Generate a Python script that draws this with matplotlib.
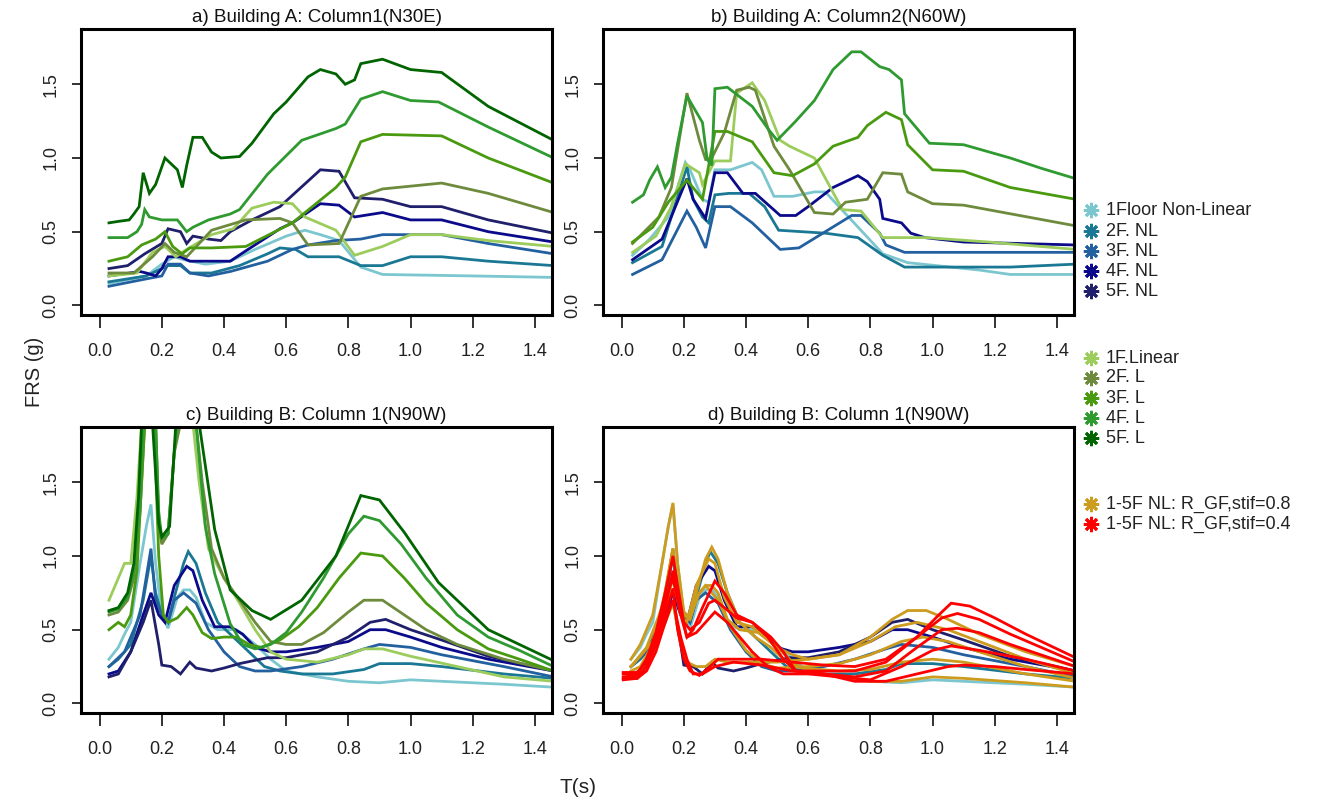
import numpy as np
import matplotlib
matplotlib.use("Agg")
import matplotlib.pyplot as plt
from matplotlib.lines import Line2D

plt.rcParams['font.family'] = ['Liberation Sans', 'DejaVu Sans']

# colours of the floors
col_nl = ['#7cc6d0', '#1a7895', '#23609f', '#0a0a8a', '#1f1f6c']
col_l = ['#9ccd5c', '#6e8b3d', '#4a9a10', '#2e9a30', '#006400']
col_gold = '#cd9b1d'
col_red = '#ff0000'

legend_labels = ['1Floor Non-Linear', '2F. NL', '3F. NL', '4F. NL', '5F. NL',
                 '1F.Linear', '2F. L', '3F. L', '4F. L', '5F. L',
                 '1-5F NL: R_GF,stif=0.8', '1-5F NL: R_GF,stif=0.4']

titles = ['a) Building A: Column1(N30E)', 'b) Building A: Column2(N60W)',
          'c) Building B: Column 1(N90W)', 'd) Building B: Column 1(N90W)']

# ---- panel a : (T, FRS) points
a_nl1 = [(0.03,0.15),(0.15,0.2),(0.2,0.28),(0.24,0.33),(0.27,0.31),(0.34,0.28),(0.42,0.3),(0.5,0.38),(0.6,0.47),
         (0.66,0.51),(0.71,0.48),(0.77,0.44),(0.84,0.26),(0.91,0.21),(1.2,0.2),(1.46,0.19)]
a_nl2 = [(0.03,0.16),(0.15,0.2),(0.22,0.27),(0.26,0.27),(0.29,0.22),(0.36,0.22),(0.45,0.27),(0.54,0.35),(0.58,0.39),
         (0.63,0.38),(0.67,0.33),(0.77,0.33),(0.84,0.27),(0.91,0.27),(1.0,0.33),(1.1,0.33),(1.25,0.3),(1.46,0.27)]
a_nl3 = [(0.03,0.13),(0.15,0.18),(0.2,0.2),(0.22,0.28),(0.26,0.28),(0.29,0.22),(0.35,0.2),(0.42,0.23),(0.54,0.3),
         (0.62,0.38),(0.67,0.41),(0.76,0.44),(0.84,0.45),(0.91,0.48),(1.1,0.48),(1.25,0.42),(1.46,0.35)]
a_nl4 = [(0.03,0.2),(0.13,0.23),(0.15,0.22),(0.18,0.2),(0.2,0.25),(0.22,0.33),(0.26,0.33),(0.29,0.3),(0.42,0.3),
         (0.47,0.37),(0.58,0.52),(0.62,0.56),(0.71,0.69),(0.77,0.68),(0.82,0.6),(0.91,0.63),(1.0,0.58),(1.1,0.58),
         (1.25,0.5),(1.46,0.43)]
a_nl5 = [(0.03,0.25),(0.09,0.27),(0.145,0.35),(0.2,0.42),(0.22,0.52),(0.26,0.5),(0.28,0.42),(0.3,0.47),(0.35,0.45),
         (0.39,0.44),(0.42,0.5),(0.49,0.58),(0.58,0.67),(0.71,0.92),(0.77,0.91),(0.82,0.73),(0.91,0.72),(1.0,0.67),
         (1.1,0.67),(1.25,0.58),(1.46,0.49)]
a_l1 = [(0.03,0.2),(0.12,0.22),(0.17,0.36),(0.21,0.4),(0.245,0.33),(0.28,0.38),(0.36,0.48),(0.43,0.52),(0.49,0.66),
        (0.56,0.7),(0.62,0.69),(0.66,0.6),(0.76,0.51),(0.82,0.34),(0.91,0.4),(1.0,0.48),(1.1,0.48),(1.25,0.44),(1.46,0.4)]
a_l2 = [(0.03,0.22),(0.11,0.22),(0.17,0.33),(0.21,0.42),(0.24,0.36),(0.28,0.33),(0.36,0.51),(0.47,0.58),(0.58,0.59),
        (0.62,0.56),(0.67,0.41),(0.77,0.42),(0.84,0.74),(0.91,0.79),(1.1,0.83),(1.25,0.76),(1.46,0.63)]
a_l3 = [(0.03,0.3),(0.09,0.33),(0.135,0.41),(0.18,0.45),(0.21,0.5),(0.235,0.4),(0.265,0.35),(0.29,0.39),(0.36,0.39),
        (0.47,0.4),(0.62,0.56),(0.76,0.8),(0.79,0.87),(0.84,1.11),(0.91,1.16),(1.1,1.15),(1.25,1.0),(1.46,0.83)]
a_l4 = [(0.03,0.46),(0.09,0.46),(0.12,0.5),(0.135,0.55),(0.145,0.65),(0.16,0.6),(0.2,0.58),(0.25,0.58),(0.265,0.54),
        (0.28,0.5),(0.3,0.53),(0.35,0.58),(0.42,0.62),(0.45,0.65),(0.54,0.89),(0.65,1.12),(0.76,1.2),(0.79,1.23),
        (0.84,1.4),(0.91,1.45),(1.0,1.39),(1.09,1.38),(1.25,1.21),(1.46,1.0)]
a_l5 = [(0.03,0.56),(0.06,0.57),(0.095,0.58),(0.11,0.62),(0.127,0.67),(0.14,0.9),(0.16,0.76),(0.18,0.82),(0.21,1.0),
        (0.25,0.92),(0.266,0.8),(0.28,0.95),(0.3,1.14),(0.33,1.14),(0.36,1.04),(0.39,1.0),(0.45,1.01),(0.49,1.1),
        (0.56,1.3),(0.6,1.38),(0.67,1.55),(0.71,1.6),(0.76,1.57),(0.79,1.5),(0.82,1.53),(0.84,1.64),(0.91,1.67),
        (1.0,1.6),(1.1,1.58),(1.25,1.35),(1.46,1.12)]

# ---- panel b
b_nl1 = [(0.035,0.34),(0.09,0.45),(0.15,0.6),(0.205,0.97),(0.22,0.92),(0.26,0.72),(0.28,0.7),(0.3,0.92),(0.35,0.92),
         (0.42,0.97),(0.45,0.92),(0.49,0.74),(0.55,0.74),(0.62,0.77),(0.655,0.77),(0.84,0.35),(0.92,0.29),
         (1.15,0.24),(1.25,0.21),(1.46,0.21)]
b_nl2 = [(0.035,0.29),(0.13,0.4),(0.21,0.94),(0.23,0.72),(0.26,0.6),(0.28,0.56),(0.3,0.75),(0.345,0.76),(0.41,0.76),
         (0.46,0.67),(0.505,0.51),(0.655,0.49),(0.76,0.46),(0.84,0.34),(0.91,0.26),(1.25,0.26),(1.46,0.28)]
b_nl3 = [(0.035,0.21),(0.13,0.31),(0.21,0.64),(0.24,0.53),(0.27,0.39),(0.3,0.67),(0.35,0.67),(0.42,0.56),(0.51,0.38),
         (0.57,0.39),(0.74,0.61),(0.77,0.61),(0.83,0.49),(0.85,0.41),(0.91,0.36),(1.46,0.36)]
b_nl4 = [(0.035,0.31),(0.13,0.45),(0.21,0.86),(0.23,0.72),(0.27,0.59),(0.3,0.9),(0.34,0.9),(0.39,0.76),(0.43,0.76),
         (0.51,0.61),(0.56,0.61),(0.6,0.67),(0.68,0.8),(0.76,0.88),(0.79,0.84),(0.83,0.72),(0.84,0.59),(0.9,0.56),
         (0.93,0.49),(0.975,0.46),(1.1,0.43),(1.46,0.41)]
b_l1 = [(0.035,0.36),(0.11,0.47),(0.16,0.67),(0.205,0.96),(0.25,0.9),(0.26,0.82),(0.3,0.98),(0.35,0.98),(0.37,1.44),
        (0.42,1.51),(0.46,1.39),(0.51,1.12),(0.54,1.08),(0.62,1.0),(0.71,0.65),(0.77,0.64),(0.84,0.46),(0.98,0.46),
        (1.18,0.43),(1.46,0.38)]
b_l2 = [(0.035,0.42),(0.12,0.6),(0.16,0.8),(0.21,1.44),(0.25,1.12),(0.27,0.99),(0.29,1.0),(0.33,1.17),(0.37,1.46),
        (0.41,1.48),(0.43,1.46),(0.49,1.08),(0.54,0.92),(0.62,0.63),(0.68,0.62),(0.72,0.7),(0.79,0.72),(0.84,0.9),
        (0.9,0.89),(0.92,0.77),(1.0,0.69),(1.1,0.68),(1.46,0.54)]
b_l3 = [(0.035,0.43),(0.1,0.53),(0.15,0.7),(0.21,0.85),(0.26,0.72),(0.3,1.18),(0.34,1.18),(0.42,1.11),(0.49,0.9),
        (0.55,0.88),(0.62,0.96),(0.68,1.08),(0.76,1.14),(0.79,1.22),(0.85,1.31),(0.9,1.26),(0.92,1.09),(1.0,0.92),
        (1.1,0.91),(1.25,0.8),(1.46,0.72)]
b_l4 = [(0.035,0.7),(0.07,0.75),(0.09,0.85),(0.115,0.94),(0.14,0.8),(0.16,0.87),(0.18,1.1),(0.21,1.42),(0.26,1.24),
        (0.275,0.99),(0.29,0.95),(0.3,1.47),(0.34,1.48),(0.42,1.35),(0.47,1.2),(0.5,1.12),(0.56,1.25),(0.62,1.39),
        (0.68,1.6),(0.74,1.72),(0.77,1.72),(0.83,1.62),(0.86,1.6),(0.9,1.53),(0.91,1.3),(0.99,1.1),(1.1,1.09),
        (1.25,1.0),(1.35,0.93),(1.46,0.86)]

# ---- panel c (also the NL curves of panel d)
c_nl1 = [(0.03,0.3),(0.06,0.38),(0.08,0.47),(0.1,0.55),(0.13,0.95),(0.15,1.2),(0.165,1.35),(0.18,0.95),(0.2,0.6),
         (0.22,0.51),(0.25,0.72),(0.27,0.77),(0.29,0.77),(0.31,0.72),(0.34,0.55),(0.38,0.5),(0.44,0.5),(0.5,0.4),
         (0.55,0.3),(0.6,0.22),(0.65,0.2),(0.7,0.18),(0.8,0.15),(0.9,0.14),(1.0,0.16),(1.1,0.15),(1.3,0.13),(1.46,0.11)]
c_nl2 = [(0.03,0.25),(0.06,0.3),(0.1,0.4),(0.14,0.7),(0.165,1.0),(0.18,0.75),(0.2,0.6),(0.22,0.55),(0.24,0.72),
         (0.27,0.95),(0.285,1.03),(0.31,0.95),(0.34,0.75),(0.38,0.55),(0.43,0.45),(0.48,0.35),(0.53,0.25),(0.58,0.22),
         (0.65,0.2),(0.75,0.2),(0.85,0.23),(0.9,0.27),(1.0,0.27),(1.1,0.25),(1.3,0.2),(1.46,0.17)]
c_nl3 = [(0.03,0.25),(0.08,0.35),(0.13,0.6),(0.165,1.05),(0.18,0.7),(0.2,0.6),(0.22,0.55),(0.24,0.7),(0.27,0.75),
         (0.31,0.68),(0.35,0.5),(0.4,0.35),(0.45,0.25),(0.5,0.22),(0.55,0.22),(0.65,0.25),(0.75,0.3),(0.85,0.37),
         (0.9,0.4),(1.0,0.38),(1.1,0.33),(1.3,0.25),(1.46,0.18)]
c_nl4 = [(0.03,0.2),(0.06,0.22),(0.1,0.35),(0.14,0.6),(0.165,0.75),(0.19,0.6),(0.21,0.55),(0.24,0.8),(0.28,0.93),
         (0.3,0.9),(0.33,0.7),(0.37,0.52),(0.42,0.52),(0.46,0.47),(0.5,0.38),(0.55,0.35),(0.6,0.35),(0.7,0.38),
         (0.8,0.42),(0.87,0.5),(0.92,0.5),(1.0,0.45),(1.1,0.38),(1.25,0.3),(1.46,0.22)]
c_nl5 = [(0.03,0.18),(0.06,0.2),(0.1,0.35),(0.14,0.55),(0.165,0.7),(0.19,0.4),(0.2,0.26),(0.23,0.25),(0.26,0.2),
         (0.29,0.28),(0.31,0.24),(0.36,0.22),(0.4,0.24),(0.45,0.27),(0.54,0.31),(0.6,0.31),(0.7,0.35),(0.8,0.45),
         (0.87,0.55),(0.92,0.57),(1.0,0.5),(1.1,0.43),(1.25,0.32),(1.46,0.22)]
c_l1 = [(0.03,0.7),(0.05,0.8),(0.08,0.95),(0.1,0.95),(0.12,1.4),(0.135,1.9),(0.16,2.2),(0.18,1.9),(0.19,1.25),
        (0.2,1.1),(0.22,1.15),(0.24,1.7),(0.25,1.9),(0.28,2.1),(0.3,1.9),(0.32,1.5),(0.35,1.05),(0.4,0.85),(0.45,0.68),
        (0.5,0.5),(0.55,0.35),(0.6,0.3),(0.7,0.28),(0.8,0.33),(0.85,0.37),(0.91,0.37),(1.0,0.32),(1.15,0.25),
        (1.3,0.18),(1.46,0.15)]
c_l2 = [(0.03,0.6),(0.06,0.62),(0.09,0.7),(0.11,0.85),(0.13,1.3),(0.145,1.9),(0.16,2.2),(0.18,1.9),(0.19,1.2),
        (0.2,1.08),(0.22,1.15),(0.24,1.7),(0.26,1.9),(0.28,2.1),(0.31,1.9),(0.33,1.5),(0.36,1.05),(0.4,0.85),
        (0.45,0.7),(0.5,0.55),(0.55,0.42),(0.6,0.4),(0.65,0.4),(0.72,0.48),(0.8,0.62),(0.85,0.7),(0.91,0.7),
        (0.98,0.6),(1.05,0.5),(1.15,0.4),(1.3,0.3),(1.46,0.22)]
c_l3 = [(0.03,0.5),(0.06,0.55),(0.08,0.52),(0.1,0.6),(0.12,0.9),(0.135,1.5),(0.145,1.9),(0.16,2.1),(0.175,1.9),
        (0.19,1.0),(0.205,0.6),(0.22,0.55),(0.25,0.58),(0.28,0.65),(0.3,0.6),(0.33,0.48),(0.36,0.44),(0.4,0.45),
        (0.44,0.45),(0.48,0.4),(0.52,0.38),(0.58,0.43),(0.64,0.52),(0.7,0.65),(0.77,0.85),(0.84,1.02),(0.91,1.0),
        (0.98,0.85),(1.05,0.68),(1.15,0.5),(1.25,0.37),(1.35,0.3),(1.46,0.22)]
c_l4 = [(0.03,0.62),(0.06,0.64),(0.09,0.72),(0.11,0.9),(0.13,1.35),(0.14,1.9),(0.16,2.2),(0.18,1.9),(0.19,1.3),
        (0.2,1.12),(0.22,1.15),(0.24,1.7),(0.25,1.9),(0.28,2.2),(0.31,1.9),(0.34,1.2),(0.37,0.88),(0.42,0.54),
        (0.46,0.4),(0.5,0.37),(0.55,0.4),(0.6,0.48),(0.65,0.62),(0.72,0.85),(0.8,1.15),(0.85,1.27),(0.9,1.24),
        (0.97,1.08),(1.05,0.85),(1.15,0.6),(1.25,0.45),(1.35,0.36),(1.46,0.25)]
c_l5 = [(0.03,0.63),(0.06,0.65),(0.09,0.75),(0.11,0.95),(0.125,1.4),(0.135,1.9),(0.155,2.3),(0.17,1.9),(0.19,1.22),
        (0.2,1.13),(0.225,1.2),(0.245,1.9),(0.28,2.3),(0.32,1.9),(0.37,1.18),(0.42,0.77),(0.49,0.63),(0.55,0.57),
        (0.65,0.7),(0.76,1.0),(0.84,1.41),(0.9,1.38),(0.98,1.16),(1.09,0.82),(1.25,0.5),(1.35,0.4),(1.46,0.29)]

# ---- panel d : rigid-GF models
d_g1 = [(0.03,0.3),(0.06,0.4),(0.08,0.5),(0.1,0.6),(0.13,0.95),(0.15,1.2),(0.165,1.36),(0.18,0.95),(0.2,0.62),
        (0.22,0.58),(0.25,0.75),(0.27,0.8),(0.29,0.8),(0.31,0.75),(0.34,0.57),(0.38,0.5),(0.44,0.48),(0.5,0.38),
        (0.55,0.28),(0.6,0.22),(0.7,0.18),(0.8,0.15),(0.9,0.15),(1.0,0.18),(1.1,0.17),(1.3,0.14),(1.46,0.11)]
d_g2 = [(0.03,0.25),(0.06,0.32),(0.1,0.42),(0.14,0.75),(0.165,1.05),(0.18,0.8),(0.2,0.62),(0.22,0.58),(0.24,0.75),
        (0.27,0.98),(0.29,1.06),(0.31,0.98),(0.34,0.75),(0.38,0.55),(0.43,0.45),(0.48,0.38),(0.53,0.28),(0.58,0.24),
        (0.7,0.22),(0.8,0.23),(0.9,0.28),(1.0,0.3),(1.1,0.28),(1.3,0.2),(1.46,0.15)]
d_g3 = [(0.03,0.25),(0.08,0.38),(0.13,0.65),(0.165,1.05),(0.18,0.75),(0.2,0.6),(0.22,0.57),(0.24,0.72),(0.27,0.8),
        (0.31,0.7),(0.35,0.52),(0.4,0.36),(0.45,0.27),(0.5,0.24),(0.6,0.25),(0.7,0.27),(0.8,0.33),(0.9,0.42),
        (0.97,0.45),(1.05,0.42),(1.15,0.35),(1.3,0.25),(1.46,0.17)]
d_g4 = [(0.03,0.22),(0.06,0.25),(0.1,0.4),(0.14,0.65),(0.165,0.85),(0.19,0.6),(0.21,0.55),(0.24,0.8),(0.28,0.98),
        (0.3,0.95),(0.33,0.72),(0.37,0.55),(0.42,0.52),(0.46,0.45),(0.5,0.38),(0.55,0.33),(0.6,0.3),(0.7,0.33),
        (0.8,0.42),(0.88,0.52),(0.95,0.55),(1.05,0.5),(1.15,0.42),(1.3,0.3),(1.46,0.2)]
d_g5 = [(0.03,0.2),(0.06,0.22),(0.1,0.35),(0.14,0.55),(0.165,0.68),(0.19,0.4),(0.21,0.28),(0.24,0.25),(0.27,0.25),
        (0.3,0.3),(0.34,0.28),(0.4,0.28),(0.5,0.28),(0.6,0.3),(0.7,0.33),(0.8,0.45),(0.87,0.57),(0.92,0.63),
        (0.98,0.63),(1.05,0.57),(1.15,0.47),(1.3,0.35),(1.46,0.25)]
d_r1 = [(0.005,0.16),(0.05,0.17),(0.08,0.22),(0.11,0.35),(0.14,0.55),(0.165,0.7),(0.19,0.45),(0.21,0.3),(0.23,0.2),
        (0.26,0.2),(0.3,0.25),(0.36,0.28),(0.45,0.26),(0.55,0.22),(0.65,0.2),(0.75,0.15),(0.85,0.15),(0.95,0.2),
        (1.05,0.25),(1.1,0.26),(1.2,0.25),(1.3,0.23),(1.46,0.2)]
d_r2 = [(0.005,0.17),(0.05,0.17),(0.08,0.25),(0.11,0.4),(0.14,0.65),(0.165,0.9),(0.19,0.62),(0.21,0.45),(0.24,0.48),
        (0.27,0.55),(0.3,0.62),(0.34,0.55),(0.38,0.45),(0.42,0.35),(0.47,0.25),(0.52,0.2),(0.6,0.2),(0.7,0.18),
        (0.8,0.16),(0.9,0.25),(1.0,0.36),(1.06,0.39),(1.15,0.36),(1.3,0.3),(1.46,0.22)]
d_r3 = [(0.005,0.18),(0.05,0.19),(0.08,0.3),(0.11,0.48),(0.14,0.75),(0.165,1.0),(0.18,0.8),(0.2,0.55),(0.22,0.5),
        (0.25,0.55),(0.28,0.68),(0.3,0.7),(0.33,0.65),(0.37,0.58),(0.42,0.55),(0.48,0.45),(0.52,0.35),(0.56,0.22),
        (0.65,0.2),(0.75,0.18),(0.85,0.22),(0.95,0.38),(1.03,0.5),(1.08,0.51),(1.15,0.48),(1.25,0.4),(1.46,0.25)]
d_r4 = [(0.005,0.2),(0.05,0.2),(0.08,0.3),(0.11,0.45),(0.14,0.7),(0.165,0.85),(0.19,0.6),(0.21,0.45),(0.23,0.5),
        (0.26,0.65),(0.3,0.83),(0.33,0.75),(0.37,0.6),(0.42,0.55),(0.47,0.45),(0.52,0.3),(0.56,0.22),(0.65,0.22),
        (0.75,0.22),(0.85,0.28),(0.95,0.45),(1.03,0.58),(1.08,0.61),(1.15,0.57),(1.25,0.47),(1.46,0.28)]
d_r5 = [(0.005,0.21),(0.05,0.21),(0.08,0.28),(0.11,0.4),(0.14,0.6),(0.165,0.78),(0.18,0.5),(0.2,0.3),(0.22,0.22),
        (0.25,0.19),(0.28,0.24),(0.31,0.3),(0.36,0.3),(0.45,0.3),(0.55,0.28),(0.65,0.26),(0.75,0.25),(0.85,0.3),
        (0.95,0.45),(1.02,0.6),(1.06,0.68),(1.12,0.66),(1.2,0.58),(1.3,0.47),(1.46,0.31)]

W, H = 1320, 805
fig = plt.figure(figsize=(W / 100, H / 100), dpi=100)

def box(l, t, r, b):
    return [l / W, 1 - b / H, (r - l) / W, (b - t) / H]

ax_a = fig.add_axes(box(81, 29, 552, 315))
ax_b = fig.add_axes(box(603, 29, 1074, 315))
ax_c = fig.add_axes(box(81, 427, 552, 713))
ax_d = fig.add_axes(box(603, 427, 1074, 713))


def draw(ax, curves, colors):
    for pts, c in zip(curves, colors):
        arr = np.array(pts)
        ax.plot(arr[:, 0], arr[:, 1], color=c, lw=2.0, solid_joinstyle='miter')


draw(ax_a, [a_nl1, a_nl2, a_nl3, a_nl4, a_nl5, a_l1, a_l2, a_l3, a_l4, a_l5], col_nl + col_l)
draw(ax_b, [b_nl1, b_nl2, b_nl3, b_nl4, b_l1, b_l2, b_l3, b_l4], col_nl[:4] + col_l[:4])
draw(ax_c, [c_nl1, c_nl2, c_nl3, c_nl4, c_nl5, c_l1, c_l2, c_l3, c_l4, c_l5], col_nl + col_l)
draw(ax_d, [c_nl1, c_nl2, c_nl3, c_nl4, c_nl5], col_nl)
draw(ax_d, [d_g1, d_g2, d_g3, d_g4, d_g5], [col_gold] * 5)
draw(ax_d, [d_r1, d_r2, d_r3, d_r4, d_r5], [col_red] * 5)

for ax, t in zip([ax_a, ax_b, ax_c, ax_d], titles):
    ax.set_xlim(-0.06, 1.455)
    ax.set_ylim(-0.065, 1.875)
    ax.set_xticks(np.arange(0, 1.41, 0.2))
    ax.set_xticklabels(['%.1f' % v for v in np.arange(0, 1.41, 0.2)])
    ax.set_yticks([0, 0.5, 1.0, 1.5])
    ax.set_yticklabels(['0.0', '0.5', '1.0', '1.5'], rotation=90, va='center')
    ax.tick_params(axis='x', direction='out', length=9.5, width=1.3, pad=11, labelsize=13, colors='#222222')
    ax.tick_params(axis='y', direction='out', length=6.5, width=1.3, pad=9, labelsize=13, colors='#222222')
    for s in ax.spines.values():
        s.set_linewidth(2.2)
    ax.set_title(t, fontsize=13.5, pad=5, color='#111111')

fig.text(35 / W, 1 - 372 / H, 'FRS (g)', rotation=90, fontsize=14.5, ha='center', va='center', color='#222222')
fig.text(578 / W, 1 - 787 / H, 'T(s)', fontsize=15, ha='center', va='center', color='#222222')

# legend on the right side, asterisk markers
leg_rows = [210, 231, 251, 271, 291, 358, 378, 398, 418, 438, 504, 524]
leg_cols = col_nl + col_l + [col_gold, col_red]
for yy, lab, c in zip(leg_rows, legend_labels, leg_cols):
    fig.add_artist(Line2D([1091 / W], [1 - yy / H], transform=fig.transFigure, marker=(8, 2, 0),
                          ms=11, mew=2.0, color=c, linestyle='none'))
    fig.text(1106 / W, 1 - yy / H, lab, fontsize=13, ha='left', va='center', color='#222222')

fig.savefig('out.png', dpi=100)
